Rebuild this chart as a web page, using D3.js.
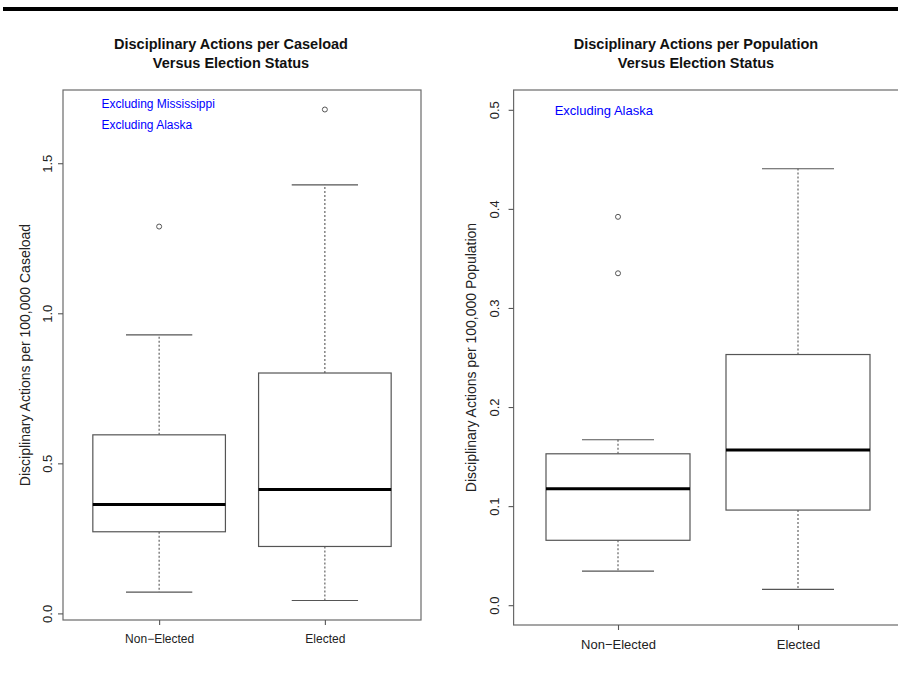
<!DOCTYPE html>
<html>
<head>
<meta charset="utf-8">
<script src="https://cdn.jsdelivr.net/npm/d3@7"></script>
<style>
  html, body { margin: 0; padding: 0; background: #fff; }
  svg { display: block; font-family: "Liberation Sans", Arial, Helvetica, sans-serif; }
</style>
</head>
<body>
<svg id="chart" width="898" height="674"></svg>
<script>
// ---------- data ----------
const categories = ["Non\u2212Elected", "Elected"];

// [lower whisker, Q1, median, Q3, upper whisker]
const caseloadNonElected = [0.071, 0.272, 0.363, 0.595, 0.928];
const caseloadElected    = [0.043, 0.223, 0.413, 0.801, 1.428];
const caseloadOutliersNonElected = [1.289];
const caseloadOutliersElected    = [1.679];
const caseloadTicks = [0.0, 0.5, 1.0, 1.5];

const populationNonElected = [0.0343, 0.0655, 0.1175, 0.1528, 0.167];
const populationElected    = [0.016, 0.096, 0.1566, 0.253, 0.4405];
const populationOutliersNonElected = [0.392, 0.335];
const populationOutliersElected    = [];
const populationTicks = [0.0, 0.1, 0.2, 0.3, 0.4, 0.5];

const notesCaseload = ["Excluding Mississippi", "Excluding Alaska"];
const notesPopulation = ["Excluding Alaska"];

// ---------- drawing ----------
const svg = d3.select("#chart");
svg.append("rect").attr("width", 898).attr("height", 674).attr("fill", "#fff");

// top black rule
svg.append("line").attr("x1", 3).attr("x2", 898).attr("y1", 9).attr("y2", 9)
  .attr("stroke", "#000").attr("stroke-width", 4);

function panel(cfg) {
  const g = svg.append("g");
  const x = d3.scaleLinear().domain([0.42, 2.58]).range([cfg.left, cfg.right]);
  const y = d3.scaleLinear().domain(cfg.yDomain).range([cfg.bottom, cfg.top]);
  const lineCol = "#555";

  // frame
  g.append("rect").attr("x", cfg.left).attr("y", cfg.top)
    .attr("width", cfg.right - cfg.left).attr("height", cfg.bottom - cfg.top)
    .attr("fill", "none").attr("stroke", "#6a6a6a").attr("stroke-width", 1.2);

  // titles
  cfg.title.forEach((t, i) => {
    g.append("text").attr("x", cfg.titleX).attr("y", cfg.titleY + i * 19)
      .attr("text-anchor", "middle").attr("font-weight", "bold")
      .attr("font-size", cfg.titleFs).attr("fill", "#111").text(t);
  });

  // y axis (ticks + rotated labels)
  const yAxis = d3.axisLeft(y).tickValues(cfg.ticks).tickSize(5).tickFormat(d3.format(".1f"));
  const ya = g.append("g").attr("transform", `translate(${cfg.left},0)`).call(yAxis);
  ya.select(".domain").remove();
  ya.selectAll(".tick line").attr("stroke", lineCol).attr("stroke-width", 1.1);
  ya.selectAll(".tick text").attr("font-size", cfg.tickFs).attr("fill", "#222")
    .attr("font-family", "Liberation Sans, Arial, sans-serif")
    .attr("x", null).attr("dy", null)
    .attr("text-anchor", "middle")
    .attr("transform", `translate(${-cfg.tickLabelOff},0) rotate(-90)`);

  // y axis title
  g.append("text")
    .attr("transform", `translate(${cfg.yTitleX},${(cfg.top + cfg.bottom) / 2}) rotate(-90)`)
    .attr("text-anchor", "middle").attr("font-size", cfg.yTitleFs).attr("fill", "#222")
    .text(cfg.yTitle);

  // x axis ticks and labels
  const xAxis = d3.axisBottom(x).tickValues([1, 2]).tickSize(5)
    .tickFormat((d) => categories[d - 1]);
  const xa = g.append("g").attr("transform", `translate(0,${cfg.bottom})`).call(xAxis);
  xa.select(".domain").remove();
  xa.selectAll(".tick line").attr("stroke", lineCol).attr("stroke-width", 1.1);
  xa.selectAll(".tick text").attr("font-size", cfg.catFs).attr("fill", "#222")
    .attr("font-family", "Liberation Sans, Arial, sans-serif")
    .attr("dy", null).attr("y", cfg.catLabelY - cfg.bottom);

  // boxes
  const boxes = [
    { pos: 1, s: cfg.stats[0], out: cfg.outliers[0] },
    { pos: 2, s: cfg.stats[1], out: cfg.outliers[1] }
  ];
  boxes.forEach((b) => {
    const cx = x(b.pos);
    const half = x(b.pos + 0.4) - cx;
    const capHalf = x(b.pos + 0.2) - cx;
    const [lw, q1, med, q3, uw] = b.s;
    // whiskers
    g.append("line").attr("x1", cx).attr("x2", cx).attr("y1", y(q3)).attr("y2", y(uw))
      .attr("stroke", lineCol).attr("stroke-dasharray", "2,2").attr("stroke-width", 1.1);
    g.append("line").attr("x1", cx).attr("x2", cx).attr("y1", y(q1)).attr("y2", y(lw))
      .attr("stroke", lineCol).attr("stroke-dasharray", "2,2").attr("stroke-width", 1.1);
    // caps
    [lw, uw].forEach((v) => {
      g.append("line").attr("x1", cx - capHalf).attr("x2", cx + capHalf)
        .attr("y1", y(v)).attr("y2", y(v))
        .attr("stroke", lineCol).attr("stroke-width", 1.2);
    });
    // box
    g.append("rect").attr("x", cx - half).attr("y", y(q3))
      .attr("width", 2 * half).attr("height", y(q1) - y(q3))
      .attr("fill", "#fff").attr("stroke", lineCol).attr("stroke-width", 1.2);
    // median
    g.append("line").attr("x1", cx - half).attr("x2", cx + half)
      .attr("y1", y(med)).attr("y2", y(med))
      .attr("stroke", "#000").attr("stroke-width", 3);
    // outliers
    b.out.forEach((v) => {
      g.append("circle").attr("cx", cx).attr("cy", y(v)).attr("r", 2.5)
        .attr("fill", "none").attr("stroke", lineCol).attr("stroke-width", 1);
    });
  });

  // notes
  cfg.notes.forEach((t, i) => {
    g.append("text").attr("x", cfg.noteX).attr("y", cfg.noteY + i * 21)
      .attr("font-size", cfg.noteFs).attr("fill", "#0000ff").text(t);
  });
}

panel({
  left: 63, right: 421, top: 90, bottom: 620,
  yDomain: [-0.022, 1.744],
  ticks: caseloadTicks,
  stats: [caseloadNonElected, caseloadElected],
  outliers: [caseloadOutliersNonElected, caseloadOutliersElected],
  title: ["Disciplinary Actions per Caseload", "Versus Election Status"],
  titleX: 231, titleY: 48.5, titleFs: 14.5,
  yTitle: "Disciplinary Actions per 100,000 Caseload",
  yTitleX: 30, yTitleFs: 14, tickFs: 13, tickLabelOff: 11, catLabelY: 643, catFs: 12,
  notes: notesCaseload, noteX: 101.5, noteY: 108, noteFs: 12
});

panel({
  left: 513.6, right: 902.4, top: 90, bottom: 625,
  yDomain: [-0.02, 0.52],
  ticks: populationTicks,
  stats: [populationNonElected, populationElected],
  outliers: [populationOutliersNonElected, populationOutliersElected],
  title: ["Disciplinary Actions per Population", "Versus Election Status"],
  titleX: 696, titleY: 48.5, titleFs: 14.5,
  yTitle: "Disciplinary Actions per 100,000 Population",
  yTitleX: 476, yTitleFs: 14, tickFs: 13, tickLabelOff: 14.5, catLabelY: 649, catFs: 13,
  notes: notesPopulation, noteX: 554.7, noteY: 114.5, noteFs: 13
});
</script>
</body>
</html>
